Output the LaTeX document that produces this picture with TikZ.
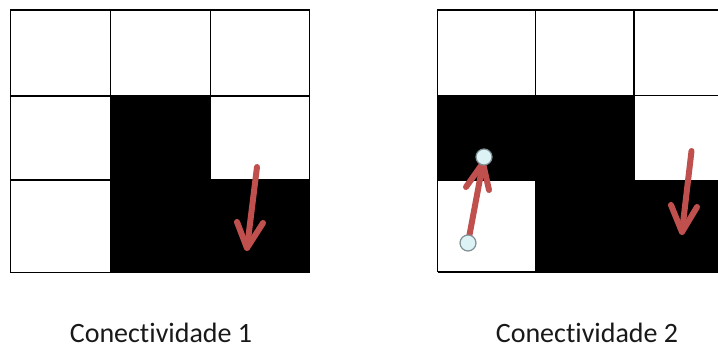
\documentclass[tikz,border=0pt]{standalone}
\usepackage{fontspec}
\setmainfont[Ligatures=NoCommon]{Carlito}
\definecolor{arrowred}{HTML}{C0504D}
\definecolor{dotfill}{HTML}{DDF2F5}
\definecolor{dotline}{HTML}{7F9095}
\begin{document}
\begin{tikzpicture}[x=1pt,y=-1pt,
  gridline/.style={line width=1.4pt, draw=black},
  blackcell/.style={fill=black},
  redarrow/.style={draw=arrowred, line width=6pt, line cap=round, line join=round},
  dot/.style={circle, minimum size=16pt, inner sep=0pt, fill=dotfill, draw=dotline, line width=1.2pt},
  caption/.style={font=\fontsize{28}{30}\selectfont, text=black!90, inner sep=0pt,
    text depth=0pt, anchor=base}]
\useasboundingbox (0,0) rectangle (718,345);
\clip (0,0) rectangle (718,345);

% ---- left grid: 3x3 cells ----
\fill[blackcell] (110.5,96) rectangle (210.5,272.5);
\fill[blackcell] (210.5,180) rectangle (309.5,272.5);
\draw[gridline] (10.5,10) rectangle (309.5,272.5);
\draw[gridline] (110.5,10) -- (110.5,272.5);
\draw[gridline] (210.5,10) -- (210.5,180);
\draw[gridline] (10.5,96) -- (110.5,96);
\draw[gridline] (110.5,96) -- (309.5,96);
\draw[gridline] (10.5,180) -- (110.5,180);
\draw[gridline] (210.5,180) -- (309.5,180);

% down arrow in the left grid
\coordinate (la-s) at (257,167);
\coordinate (la-t) at (247,248);
\coordinate (la-w1) at (237,222);
\coordinate (la-w2) at (263,223);
\draw[redarrow] (la-s) -- (la-t);
\draw[redarrow] (la-w1) -- (la-t) -- (la-w2);

% ---- right grid: 3x3 cells, running past the right edge ----
\fill[blackcell] (437.5,95.5) rectangle (634,180.5);
\fill[blackcell] (535.5,180.5) rectangle (740,272);
\draw[gridline] (437.5,272) -- (437.5,10) -- (740,10);
\draw[gridline] (437.5,272) -- (740,272);
\draw[gridline] (535.5,10) -- (535.5,95.5);
\draw[gridline] (634,10) -- (634,95.5);
\draw[gridline] (437.5,95.5) -- (740,95.5);
\draw[gridline] (437.5,180.5) -- (535.5,180.5);
\draw[gridline] (535.5,180.5) -- (535.5,272);
\draw[gridline] (634,95.5) -- (634,180.5) -- (740,180.5);

% up arrow between two handles
\coordinate (ra-bc) at (468,243);
\coordinate (ra-ec) at (484,157);
\coordinate (ra-t) at (483,163);
\coordinate (ra-w1) at (466,187);
\coordinate (ra-w2) at (489,190);
\draw[redarrow] (ra-bc) -- (ra-t);
\draw[redarrow] (ra-w1) -- (ra-t) -- (ra-w2);
\node[dot] (ra-b) at (ra-bc) {};
\node[dot] (ra-e) at (ra-ec) {};

% down arrow in the right grid
\coordinate (rb-s) at (691.5,151);
\coordinate (rb-t) at (682,232);
\coordinate (rb-w1) at (671,205);
\coordinate (rb-w2) at (697,207);
\draw[redarrow] (rb-s) -- (rb-t);
\draw[redarrow] (rb-w1) -- (rb-t) -- (rb-w2);

% ---- captions ----
\node[caption] (cap1) at (161,342.5) {Conectividade 1};
\node[caption] (cap2) at (587,342.5) {Conectividade 2};
\end{tikzpicture}
\end{document}
